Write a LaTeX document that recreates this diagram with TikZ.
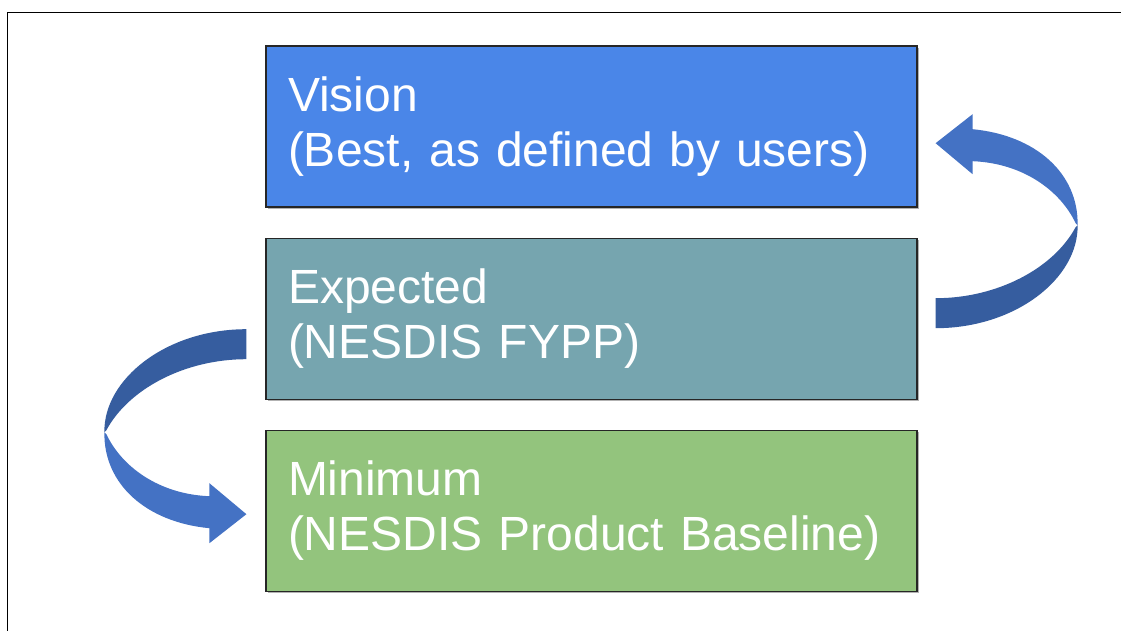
\documentclass[tikz,border=0pt]{standalone}
\usepackage{fontspec}
\setmainfont{Liberation Sans}
\usetikzlibrary{positioning,calc,shadows}
\definecolor{VisionClr}{HTML}{4A86E8}
\definecolor{ExpectedClr}{HTML}{76A5AF}
\definecolor{MinimumClr}{HTML}{93C47D}
\definecolor{ArrowClr}{HTML}{4472C4}
\definecolor{ArrowDarkClr}{HTML}{365D9F}

\tikzset{
  levelbox/.style={draw=black!85,line width=1.2pt,text=white,
    font=\fontsize{48}{55}\selectfont,align=left,text width=607pt,
    inner xsep=22pt,inner ysep=0pt,minimum height=161pt,
    drop shadow={shadow xshift=2pt,shadow yshift=-2pt,opacity=0.3,fill=black}},
  bentarrow/.pic={
    % tail part, darker
    \fill[ArrowDarkClr] (142,-88) .. controls (143,-35) and (80,15) .. (0,15)
      -- (0,-15) .. controls (62,-15) and (118,-45) .. (140,-86) -- cycle;
    % head part
    \fill[ArrowClr] (142,-88) .. controls (143,-140) and (100,-178) .. (37,-184)
      -- (37,-199) -- (0,-170) -- (37,-139) -- (37,-152)
      .. controls (88,-150) and (125,-122) .. (140,-90) -- cycle;
  }
}

\begin{document}
\begin{tikzpicture}[x=1pt,y=-1pt]
\useasboundingbox (0,0) rectangle (1121,631);
\draw[line width=1pt] (1121,12.5) -- (7.5,12.5) -- (7.5,631);

\node[levelbox,fill=VisionClr] (vision) at (591.5,126.5) {Vision\\(Best, as defined by users)};
\node[levelbox,fill=ExpectedClr,below=30pt of vision] (expected) {Expected\\(NESDIS FYPP)};
\node[levelbox,fill=MinimumClr,below=30pt of expected] (minimum) {Minimum\\(NESDIS Product Baseline)};

\pic (upArrow) at ($(expected.east)+(18,-5.5)$) {bentarrow};
\pic[rotate=180] (downArrow) at ($(expected.west)+(-19,25.5)$) {bentarrow};
\end{tikzpicture}
\end{document}
